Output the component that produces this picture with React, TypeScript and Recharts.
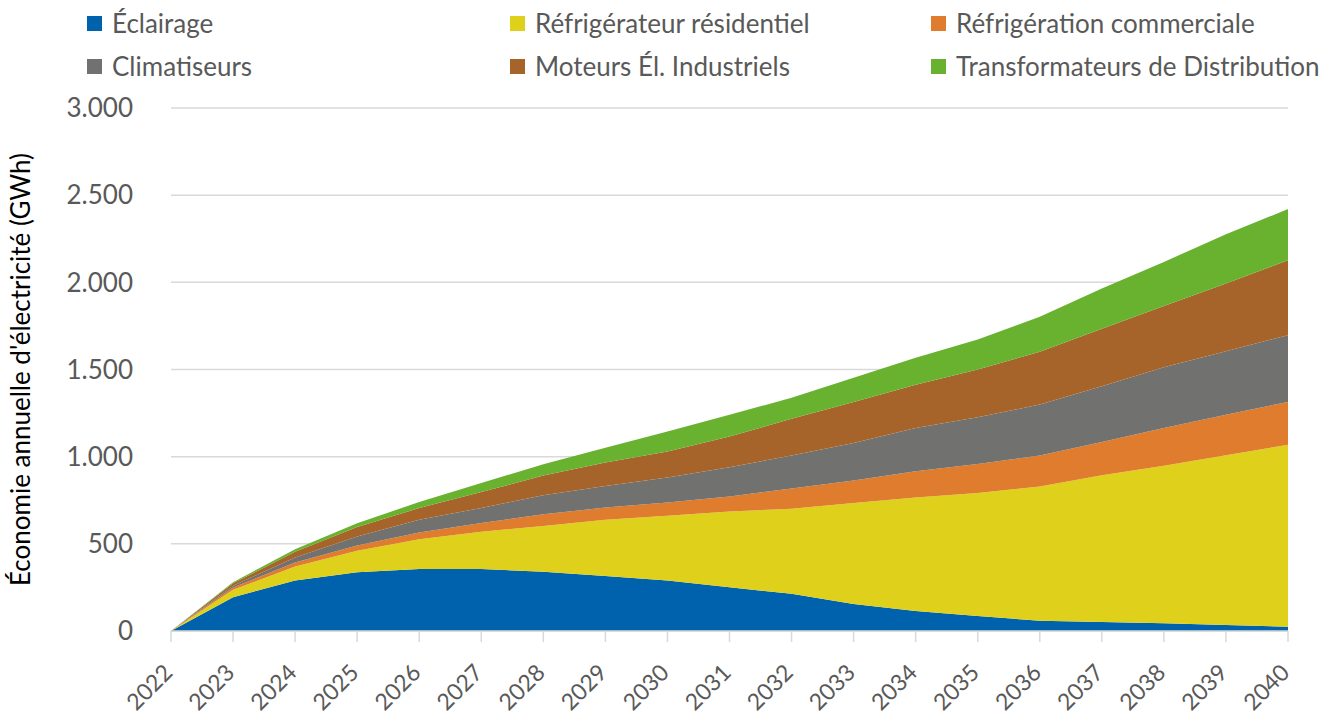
import { AreaChart, Area, XAxis, YAxis, CartesianGrid, Legend, Label } from 'recharts'

const years = ['2022', '2023', '2024', '2025', '2026', '2027', '2028', '2029', '2030', '2031', '2032', '2033', '2034', '2035', '2036', '2037', '2038', '2039', '2040']

// GWh per category
const eclairage = [0, 194, 289, 337, 355, 355, 340, 316, 289, 251, 213, 155, 115, 86, 59, 52, 44, 34, 25]
const refrigResidentiel = [0, 42, 81, 123, 172, 214, 263, 322, 372, 435, 488, 579, 651, 705, 770, 841, 904, 974, 1044]
const refrigCommerciale = [0, 13, 23, 30, 38, 50, 66, 70, 76, 86, 117, 130, 150, 167, 177, 191, 217, 233, 245]
const climatiseurs = [0, 11, 28, 52, 73, 86, 110, 124, 144, 167, 189, 215, 249, 268, 293, 320, 348, 364, 383]
const moteurs = [0, 14, 33, 54, 67, 92, 113, 135, 149, 176, 210, 234, 248, 274, 303, 330, 351, 389, 429]
const transformateurs = [0, 6, 15, 22, 35, 52, 64, 84, 114, 125, 121, 140, 155, 172, 201, 230, 253, 282, 294]

const yTicks = [0, 500, 1000, 1500, 2000, 2500, 3000]

const series = [
  { key: 'eclairage', name: 'Éclairage', color: '#0062ad', values: eclairage },
  { key: 'refrigResidentiel', name: 'Réfrigérateur résidentiel', color: '#dfd11b', values: refrigResidentiel },
  { key: 'refrigCommerciale', name: 'Réfrigération commerciale', color: '#e07c2d', values: refrigCommerciale },
  { key: 'climatiseurs', name: 'Climatiseurs', color: '#71716f', values: climatiseurs },
  { key: 'moteurs', name: 'Moteurs Él. Industriels', color: '#a6642a', values: moteurs },
  { key: 'transformateurs', name: 'Transformateurs de Distribution', color: '#68b22f', values: transformateurs },
]

const data = years.map((year, i) => {
  const row: Record<string, string | number> = { year }
  series.forEach(s => { row[s.key] = s.values[i] })
  return row
})

const FONT = 'Lato, "Open Sans", sans-serif'
const GREY_TEXT = '#595959'
const GRID = '#d9d9d9'

// legend slots: 3 columns x 2 rows, filled row by row
const legendCols = [87, 510, 931]
const legendRows = [10, 53]

function formatThousands(v: number) {
  if (v < 1000) return String(v)
  return `${Math.floor(v / 1000)}.${String(v % 1000).padStart(3, '0')}`
}

function LegendGrid() {
  return (
    <div style={{ position: 'relative', height: 0, width: 1332 }}>
      {series.map((s, i) => (
        <div
          key={s.key}
          style={{
            position: 'absolute',
            left: legendCols[i % 3],
            top: legendRows[Math.floor(i / 3)],
            height: 26,
            display: 'flex',
            alignItems: 'center',
            whiteSpace: 'nowrap',
          }}
        >
          <span style={{ display: 'inline-block', width: 15, height: 15, background: s.color, marginRight: 10 }} />
          <span style={{ fontFamily: FONT, fontSize: 26, color: GREY_TEXT, lineHeight: '26px' }}>{s.name}</span>
        </div>
      ))}
    </div>
  )
}

interface XTickProps {
  x?: number
  y?: number
  payload?: { value: string }
}

function YearTick({ x = 0, y = 0, payload }: XTickProps) {
  if (!payload) return null
  return (
    <g transform={`translate(${x + 3},${y + 30})`}>
      <text textAnchor="end" transform="rotate(-45)" fontFamily={FONT} fontSize={23} fill={GREY_TEXT}>
        {payload.value}
      </text>
    </g>
  )
}

function YTitle({ viewBox }: { viewBox?: { x: number; y: number; width: number; height: number } }) {
  if (!viewBox) return null
  const cy = viewBox.y + viewBox.height / 2
  return (
    <text
      x={20}
      y={cy}
      transform={`rotate(-90, 20, ${cy})`}
      textAnchor="middle"
      dominantBaseline="central"
      fontFamily={FONT}
      fontSize={26}
      fill="#000"
    >
      Économie annuelle d'électricité (GWh)
    </text>
  )
}

export default function App() {
  return (
    <div style={{ position: 'absolute', left: 0, top: 0, width: 1332, height: 715, background: '#fff' }}>
      <AreaChart width={1332} height={715} data={data} margin={{ top: 108, right: 44, bottom: 0, left: 0 }}>
        <CartesianGrid vertical={false} stroke={GRID} strokeWidth={1.5} />
        <XAxis
          dataKey="year"
          interval={0}
          height={84}
          stroke={GRID}
          strokeWidth={1.5}
          tickSize={11}
          tickMargin={2}
          tick={(props: object) => <YearTick {...(props as XTickProps)} />}
        />
        <YAxis
          width={171}
          domain={[0, 3000]}
          ticks={yTicks}
          axisLine={false}
          tickLine={false}
          tickSize={0}
          tickMargin={38}
          tickFormatter={formatThousands}
          tick={{ fontFamily: FONT, fontSize: 26, fill: GREY_TEXT }}
        >
          <Label content={(p: object) => <YTitle {...(p as { viewBox?: { x: number; y: number; width: number; height: number } })} />} />
        </YAxis>
        <Legend verticalAlign="top" align="left" wrapperStyle={{ top: 0, left: 0 }} content={() => <LegendGrid />} />
        {series.map(s => (
          <Area
            key={s.key}
            type="linear"
            dataKey={s.key}
            name={s.name}
            stackId="1"
            fill={s.color}
            fillOpacity={1}
            stroke="none"
            isAnimationActive={false}
          />
        ))}
      </AreaChart>
    </div>
  )
}
